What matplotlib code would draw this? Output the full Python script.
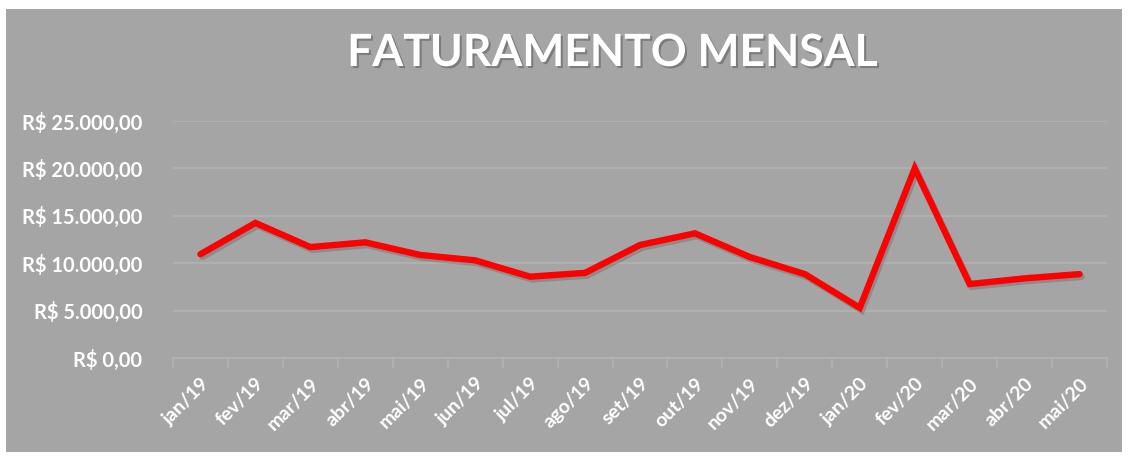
import matplotlib.pyplot as plt
import matplotlib.patheffects as pe
from matplotlib.patches import Rectangle
import numpy as np

months = ["jan/19", "fev/19", "mar/19", "abr/19", "mai/19", "jun/19", "jul/19",
          "ago/19", "set/19", "out/19", "nov/19", "dez/19", "jan/20", "fev/20",
          "mar/20", "abr/20", "mai/20"]
revenue = [10950, 14250, 11700, 12200, 10870, 10300, 8580, 8980, 11920,
           13150, 10650, 8850, 5300, 20000, 7800, 8400, 8850]
y_ticks = [0, 5000, 10000, 15000, 20000, 25000]

BG = "#a5a5a5"
GRID = "#b3b3b3"

plt.rcParams['font.family'] = ['Lato', 'DejaVu Sans']

fig = plt.figure(figsize=(11.28, 4.59), dpi=100, facecolor="white")
fig.patches.append(Rectangle((6 / 1128, 1 - 452 / 459), 1116 / 1128, 443 / 459,
                             transform=fig.transFigure, facecolor=BG,
                             edgecolor="none", zorder=-10))

ax = fig.add_axes([173 / 1128, 1 - 358 / 459, 934 / 1128, 237 / 459])
ax.set_facecolor("none")

x = np.arange(len(months))
ax.plot(x, revenue, color="#ff0000", linewidth=4.6, solid_capstyle="round",
        solid_joinstyle="miter", zorder=3,
        path_effects=[pe.SimpleLineShadow(offset=(1.5, -2), shadow_color="#666666", alpha=0.4),
                      pe.Normal()])

ax.set_xlim(-0.5, len(months) - 0.5)
ax.set_ylim(0, 25000)
ax.set_yticks(y_ticks)
ax.set_yticklabels([f"R$ {v:,.2f}".replace(",", "X").replace(".", ",").replace("X", ".")
                    for v in y_ticks])
ax.grid(axis="y", color=GRID, linewidth=1.2)
ax.set_axisbelow(True)

ax.set_xticks(x)
ax.set_xticklabels(months, rotation=45, ha="right", rotation_mode="anchor")
ax.set_xticks(np.arange(len(months) + 1) - 0.5, minor=True)
ax.tick_params(axis="x", which="major", length=0, pad=12, colors="white", labelsize=14)
ax.tick_params(axis="x", which="minor", length=7, width=1.2, color=GRID, direction="out")
ax.tick_params(axis="y", length=0, pad=22, colors="white", labelsize=14.5)
for lbl in ax.get_xticklabels() + ax.get_yticklabels():
    lbl.set_fontweight("bold")

for s in ["top", "right", "left"]:
    ax.spines[s].set_visible(False)
ax.spines["bottom"].set_color(GRID)
ax.spines["bottom"].set_linewidth(1.2)

fig.text(613 / 1128, 1 - 53 / 459, "FATURAMENTO MENSAL", ha="center", va="center",
         color="white", fontsize=32, fontweight="bold",
         path_effects=[pe.withSimplePatchShadow(offset=(1.5, -1.5), shadow_rgbFace="#555555", alpha=0.5)])

fig.savefig("out.png", dpi=100, facecolor="white")
